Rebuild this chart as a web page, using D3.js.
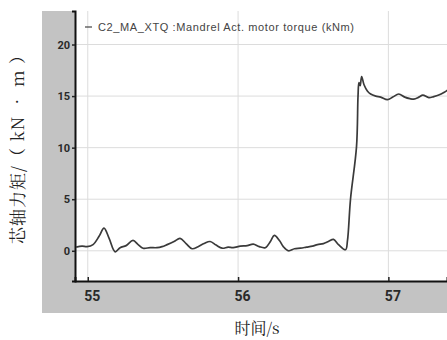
<!DOCTYPE html>
<html>
<head>
<meta charset="utf-8">
<script src="https://cdn.jsdelivr.net/npm/d3@7"></script>
<style>
  body { margin: 0; background: #fff; }
  svg { display: block; }
</style>
</head>
<body>
<svg width="447" height="340"></svg>
<script>
// time (s) and mandrel torque (kN·m)
const times = [54.922, 54.962, 54.995, 55.035, 55.075, 55.108, 55.142, 55.182, 55.215, 55.255,
  55.301, 55.335, 55.368, 55.415, 55.461, 55.494, 55.528, 55.574, 55.614, 55.654,
  55.694, 55.734, 55.774, 55.814, 55.854, 55.894, 55.934, 55.967, 56.015, 56.061,
  56.101, 56.141, 56.181, 56.215, 56.241, 56.275, 56.301, 56.335, 56.375, 56.415,
  56.455, 56.495, 56.528, 56.568, 56.601, 56.635, 56.668, 56.715, 56.728, 56.748,
  56.788, 56.798, 56.804, 56.812, 56.822, 56.838, 56.860, 56.882, 56.916, 56.949,
  56.994, 57.029, 57.069, 57.109, 57.143, 57.169, 57.203, 57.229, 57.269, 57.302,
  57.335, 57.369, 57.395];
const torque = [0.35, 0.45, 0.4, 0.6, 1.4, 2.2, 1.2, -0.1, 0.3, 0.5,
  1.0, 0.6, 0.25, 0.3, 0.3, 0.4, 0.6, 0.9, 1.2, 0.7,
  0.2, 0.4, 0.7, 0.9, 0.55, 0.25, 0.35, 0.3, 0.45, 0.5,
  0.65, 0.4, 0.3, 0.9, 1.5, 1.0, 0.4, 0.0, 0.2, 0.25,
  0.35, 0.45, 0.6, 0.7, 0.9, 1.1, 0.6, 0.1, 1.0, 5.0,
  10.1, 15.0, 16.3, 16.0, 16.9, 16.1, 15.5, 15.2, 15.0, 14.9,
  14.65, 14.9, 15.2, 14.9, 14.75, 14.7, 14.9, 15.1, 14.85, 14.95,
  15.1, 15.35, 15.6];
const xTicks = [55, 56, 57];
const yTicks = [0, 5, 10, 15, 20];
const legendText = 'C2_MA_XTQ :Mandrel Act. motor torque (kNm)';
const yLabel = '芯轴力矩/（ kN • m ）';
const xLabel = '时间/s';

const svg = d3.select('svg');
const plot = { left: 75, right: 447, top: 11, bottom: 281 };

const x = d3.scaleLinear().domain([54.915, 57.39]).range([plot.left, plot.right]);
const y = d3.scaleLinear().domain([-2.93, 23.25]).range([plot.bottom, plot.top]);

// gray frame behind the plot
svg.append('rect')
    .attr('x', 42).attr('y', 11)
    .attr('width', 447 - 42).attr('height', 313 - 11)
    .attr('fill', '#c3c3c3');
svg.append('rect')
    .attr('x', plot.left).attr('y', plot.top)
    .attr('width', plot.right - plot.left).attr('height', plot.bottom - plot.top)
    .attr('fill', '#fff');

const grid = svg.append('g').attr('stroke', '#dcdcdc').attr('stroke-width', 1);
grid.selectAll('.gx').data(xTicks).enter().append('line')
    .attr('x1', d => x(d)).attr('x2', d => x(d))
    .attr('y1', plot.top).attr('y2', plot.bottom);
grid.selectAll('.gy').data(yTicks).enter().append('line')
    .attr('x1', plot.left).attr('x2', plot.right)
    .attr('y1', d => y(d)).attr('y2', d => y(d));

const xAxis = svg.append('g')
    .attr('transform', `translate(0,${plot.bottom})`)
    .call(d3.axisBottom(x).tickValues(xTicks).tickSize(-4).tickPadding(10).tickFormat(d3.format('d')));
const yAxis = svg.append('g')
    .attr('transform', `translate(${plot.left},0)`)
    .call(d3.axisLeft(y).tickValues(yTicks).tickSize(3).tickPadding(2).tickFormat(d3.format('d')));

[xAxis, yAxis].forEach(a => {
  a.select('.domain').attr('stroke', '#111').attr('stroke-width', 2);
  a.selectAll('.tick line').attr('stroke', '#222').attr('stroke-width', 1.5);
  a.selectAll('text')
      .attr('fill', '#2a2a2a')
      .attr('font-family', 'Liberation Sans Narrow, Roboto, sans-serif')
      .attr('font-weight', 'bold');
});
xAxis.selectAll('text').attr('font-size', 14).attr('dx', 4);
yAxis.selectAll('text').attr('font-size', 11);

const data = times.map((t, i) => ({ t, v: torque[i] }));
const line = d3.line().x(d => x(d.t)).y(d => y(d.v)).curve(d3.curveCatmullRom);

svg.append('path')
    .datum(data)
    .attr('fill', 'none')
    .attr('stroke', '#3a3a3a')
    .attr('stroke-width', 1.7)
    .attr('d', line);

// legend
svg.append('line')
    .attr('x1', 85).attr('x2', 92)
    .attr('y1', 27).attr('y2', 27)
    .attr('stroke', '#444').attr('stroke-width', 1.2);
svg.append('text')
    .attr('x', 98).attr('y', 31)
    .attr('font-family', 'Liberation Sans, Arial, sans-serif')
    .attr('font-size', 11)
    .attr('textLength', 256)
    .attr('fill', '#444')
    .text(legendText);

// axis titles
svg.append('text')
    .attr('transform', 'translate(24,145) rotate(-90)')
    .attr('text-anchor', 'middle')
    .attr('font-family', 'Noto Serif CJK SC, Liberation Serif, Noto Sans CJK SC, serif')
    .attr('font-size', 17)
    .attr('letter-spacing', 1)
    .attr('fill', '#222')
    .text(yLabel);
svg.append('text')
    .attr('x', 257).attr('y', 334)
    .attr('text-anchor', 'middle')
    .attr('font-family', 'Noto Serif CJK SC, Liberation Serif, Noto Sans CJK SC, serif')
    .attr('font-size', 16)
    .attr('fill', '#222')
    .text(xLabel);
</script>
</body>
</html>
